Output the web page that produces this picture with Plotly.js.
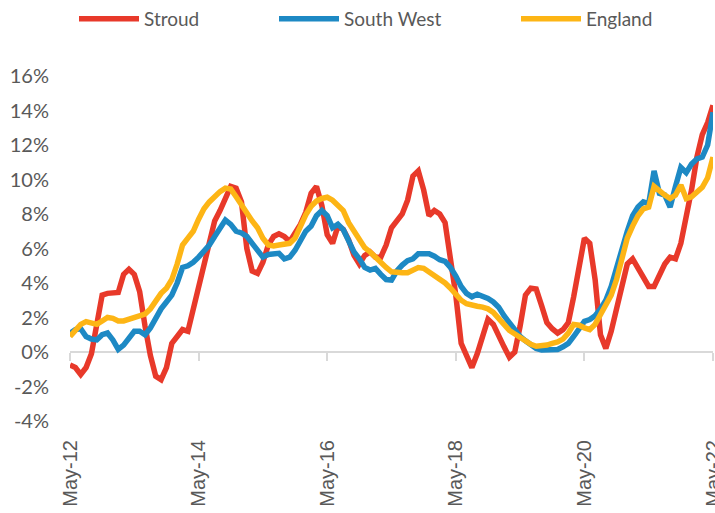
<!DOCTYPE html>
<html>
<head>
<meta charset="utf-8">
<script src="https://cdn.plot.ly/plotly-3.0.1.min.js"></script>
<style>html,body{margin:0;padding:0;background:#fff;}#chart{width:715px;height:513px;}</style>
</head>
<body>
<div id="chart"></div>
<script>
// Monthly series, May-12 .. May-22 (121 months), annual % change
const stroud = [
-0.75,-0.9,-1.3,-0.9,-0.1,1.6,3.3,3.4,3.4,3.45,
4.5,4.8,4.5,3.5,1.5,-0.2,-1.4,-1.6,-0.9,0.5,
0.9,1.3,1.2,2.5,3.6,5.0,6.5,7.6,8.2,9.0,
9.6,9.5,8.7,6.0,4.7,4.56,5.2,6.2,6.7,6.85,
6.7,6.4,6.9,7.4,8.1,9.2,9.6,8.5,6.8,6.3,
7.3,7.1,6.5,5.6,5.1,5.6,5.8,5.5,5.5,6.2,
7.2,7.6,8.0,8.8,10.2,10.5,9.4,7.9,8.2,8.0,
7.5,5.4,3.3,0.5,-0.25,-0.9,-0.1,1.0,1.9,1.6,
0.9,0.3,-0.3,0.0,1.5,3.3,3.7,3.65,2.7,1.7,
1.35,1.1,1.3,1.7,3.2,5.0,6.6,6.3,4.2,1.0,
0.2,1.2,2.6,4.0,5.1,5.4,4.9,4.3,3.8,3.8,
4.4,5.1,5.5,5.4,6.3,7.7,9.4,11.3,12.6,13.3,
14.3];
const southWest = [
1.08,1.3,1.35,0.9,0.75,0.7,1.0,1.1,0.7,0.15,
0.4,0.8,1.2,1.2,1.0,1.4,2.0,2.5,2.9,3.3,
4.0,4.9,5.0,5.2,5.5,5.8,6.2,6.7,7.2,7.65,
7.4,7.0,6.9,6.7,6.3,5.9,5.5,5.65,5.72,5.72,
5.4,5.5,5.9,6.5,7.0,7.3,7.9,8.2,7.9,7.2,
7.4,7.1,6.5,5.8,5.4,4.9,4.75,4.85,4.5,4.2,
4.17,4.7,5.04,5.3,5.4,5.7,5.7,5.7,5.55,5.35,
5.25,4.9,4.4,3.8,3.4,3.2,3.35,3.25,3.1,2.9,
2.6,2.1,1.7,1.25,0.9,0.65,0.4,0.2,0.12,0.12,
0.12,0.15,0.3,0.5,0.9,1.4,1.78,1.88,2.1,2.5,
3.0,3.8,4.9,6.0,7.0,7.9,8.4,8.7,8.6,10.5,
9.2,9.1,8.4,9.6,10.7,10.4,10.9,11.2,11.3,12.0,
13.9];
const england = [
0.9,1.3,1.6,1.76,1.65,1.6,1.8,2.0,1.95,1.8,
1.8,1.9,2.0,2.05,2.2,2.5,2.95,3.4,3.7,4.2,
5.1,6.2,6.6,7.0,7.7,8.3,8.7,9.05,9.3,9.5,
9.45,9.0,8.5,8.0,7.6,7.2,6.6,6.2,6.15,6.2,
6.25,6.3,6.6,7.3,7.95,8.45,8.75,8.9,8.97,8.8,
8.55,8.2,7.5,7.0,6.4,6.05,5.8,5.5,5.1,4.9,
4.65,4.6,4.6,4.6,4.72,4.9,4.85,4.65,4.4,4.2,
4.0,3.7,3.3,3.0,2.8,2.7,2.65,2.6,2.5,2.3,
2.0,1.6,1.25,1.05,0.8,0.65,0.45,0.33,0.35,0.4,
0.5,0.58,0.75,1.1,1.6,1.55,1.4,1.3,1.6,2.15,
2.6,3.3,4.2,5.3,6.6,7.3,7.9,8.3,8.4,9.6,
9.3,9.1,8.9,9.1,9.68,8.9,9.0,9.3,9.55,10.1,
11.3];
const xTickVals = [0,24,48,72,96,120];
const xTickText = ['May-12','May-14','May-16','May-18','May-20','May-22'];
const yTickVals = [-4,-2,0,2,4,6,8,10,12,14,16];
const yTickText = yTickVals.map(v => v + '%');
const seriesNames = ['Stroud','South West','England'];
const seriesColors = ['#E8392A','#1D89C4','#FDB515'];

const monthIdx = stroud.map((_, i) => i);
const allSeries = [stroud, southWest, england];
const legendIds = ['legend','legend2','legend3'];
const legendX = [74/715, 274/715, 516/715];

const traces = allSeries.map((vals, k) => ({
  x: monthIdx, y: vals, type: 'scatter', mode: 'lines', name: seriesNames[k],
  legend: legendIds[k],
  line: {color: seriesColors[k], width: 5.5, shape: 'linear'},
  hoverinfo: 'skip'
}));
// carrier for the zero-line axis with ticks
traces.push({x: [0, 120], y: [null, null], xaxis: 'x2', type: 'scatter', mode: 'lines',
  showlegend: false, hoverinfo: 'skip'});

const gray = '#595959';
const layout = {
  width: 715, height: 513,
  margin: {l: 70, r: 2, t: 76, b: 92, pad: 0},
  paper_bgcolor: '#fff', plot_bgcolor: '#fff',
  showlegend: true,
  xaxis: {range: [0, 120], tickvals: xTickVals, ticktext: xTickText, tickangle: -90,
    showgrid: false, zeroline: false, showline: false, ticks: '',
    ticklabelstandoff: 14, ticklabeloverflow: 'allow',
    tickfont: {family: 'Liberation Sans', size: 20, color: gray}},
  xaxis2: {overlaying: 'x', anchor: 'free', position: 0.2, range: [0, 120],
    tickvals: xTickVals, showticklabels: false, ticks: 'outside', ticklen: 8,
    tickwidth: 2, tickcolor: '#d9d9d9', showline: true, linecolor: '#d9d9d9', linewidth: 2,
    showgrid: false, zeroline: false, layer: 'below traces'},
  yaxis: {range: [-4, 16], tickvals: yTickVals, ticktext: yTickText,
    showgrid: false, zeroline: false, showline: false, ticks: '',
    ticklabelstandoff: 20,
    tickfont: {family: 'Lato', size: 20, color: gray}}
};
legendIds.forEach((id, k) => {
  layout[id] = {orientation: 'h', xref: 'container', yref: 'container',
    x: legendX[k], y: 1 - 19/513, xanchor: 'left', yanchor: 'middle', itemwidth: 60,
    font: {family: 'Lato', size: 19, color: gray}, bgcolor: 'rgba(0,0,0,0)'};
});
Plotly.newPlot('chart', traces, layout, {displayModeBar: false, staticPlot: true});
</script>
</body>
</html>
